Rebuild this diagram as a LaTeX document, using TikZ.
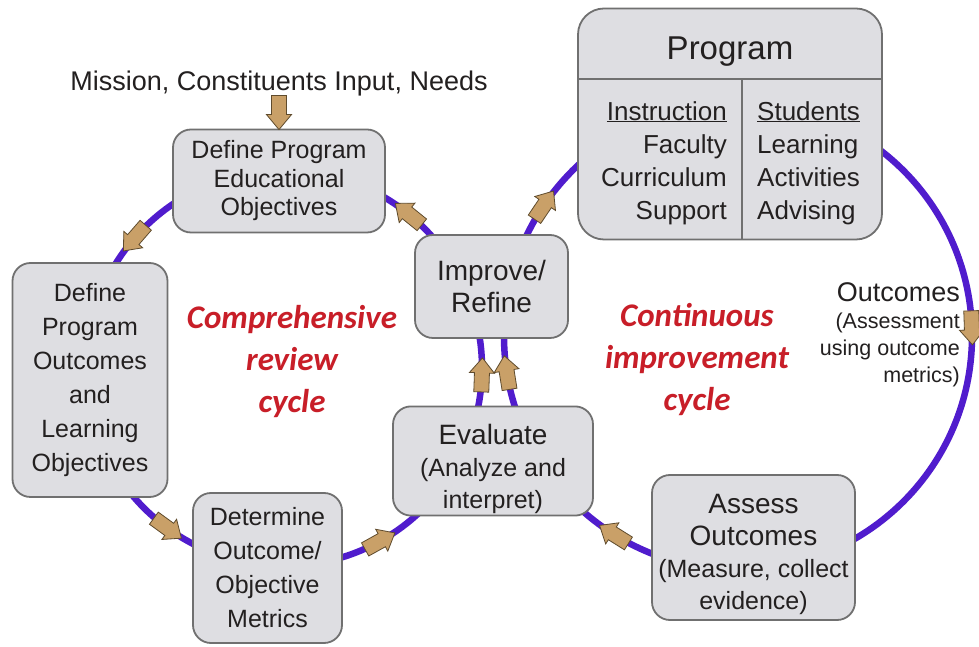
\documentclass[tikz,border=0pt]{standalone}
\usepackage{fontspec}
\setmainfont{Liberation Sans}
\newfontfamily\cyclefont{Carlito}
\usetikzlibrary{positioning}

\definecolor{loopviolet}{RGB}{80,28,205}
\definecolor{arrowtan}{RGB}{201,160,104}
\definecolor{arrowedge}{RGB}{95,75,45}
\definecolor{boxfill}{RGB}{222,222,226}
\definecolor{boxedge}{RGB}{112,112,112}
\definecolor{inkgray}{RGB}{35,32,32}
\definecolor{cyclered}{RGB}{200,30,40}

\newcommand\boxhead{\fontsize{28}{32}\selectfont}

\tikzset{
  stepbox/.style={draw=boxedge, line width=1.8pt, fill=boxfill, rounded corners=18pt,
    align=center, inner sep=2pt, text=inkgray, font=\fontsize{25}{32}\selectfont},
  cyclering/.style={draw=loopviolet, line width=6.5pt},
  cyclelabel/.style={text=cyclered, align=center,
    font=\cyclefont\bfseries\itshape\fontsize{33}{42}\selectfont},
  progtext/.style={text=inkgray, inner sep=0pt, font=\fontsize{26}{33}\selectfont},
  blockarrow/.pic={
    \filldraw[fill=arrowtan, draw=arrowedge, line width=0.8pt]
      (-17,-7.5) -- (2,-7.5) -- (2,-12.5) -- (17,0) -- (2,12.5) -- (2,7.5) -- (-17,7.5) -- cycle;}
}

\begin{document}
\begin{tikzpicture}[x=1pt,y=1pt]
\path[use as bounding box, fill=white] (0,0) rectangle (979,647);

% the two cycles
\coordinate (lc) at (284,279);
\coordinate (rc) at (738,311);
\draw[cyclering] (lc) circle[radius=198];
\draw[cyclering] (rc) circle[radius=234];

% boxes
\node[stepbox, minimum width=212pt, minimum height=103pt, font=\fontsize{25}{28.5}\selectfont] (peo) at (279,466)
  {Define Program\\Educational\\Objectives};
\node[stepbox, minimum width=155pt, minimum height=234pt, font=\fontsize{25}{34}\selectfont] (dpo) at (90,267)
  {Define\\Program\\Outcomes\\and\\Learning\\Objectives};
\node[stepbox, minimum width=149pt, minimum height=150pt, font=\fontsize{25}{34}\selectfont] (dom) at (267.5,79)
  {Determine\\Outcome/\\Objective\\Metrics};
\node[stepbox, minimum width=200pt, minimum height=108pt] (evl) at (493,186)
  {{\boxhead\rule{0pt}{36pt}Evaluate}\\(Analyze and\\interpret)};
\node[stepbox, minimum width=153pt, minimum height=103pt, font=\boxhead] (imp) at (491.5,360.5)
  {Improve/\\Refine};
\node[stepbox, minimum width=203pt, minimum height=145pt] (ass) at (753.5,99.5)
  {{\boxhead\rule{0pt}{34pt}Assess}\\{\boxhead Outcomes}\\(Measure, collect\\evidence)};

% program box
\node[stepbox, rounded corners=26pt, minimum width=304pt, minimum height=231pt] (prog) at (730,523) {};
\draw[draw=boxedge, line width=1.8pt] ([yshift=45pt]prog.west) -- ([yshift=45pt]prog.east);
\draw[draw=boxedge, line width=1.8pt] ([xshift=12pt,yshift=45pt]prog.center) -- ([xshift=12pt]prog.south);
\node[text=inkgray, font=\fontsize{33}{36}\selectfont] (progtitle) at (730,595) {Program};
\node[progtext, anchor=north east, align=right] (instr) at (727,546)
  {\underline{Instruction}\\Faculty\\Curriculum\\Support};
\node[progtext, anchor=north west, align=left] (stud) at (757,546)
  {\underline{Students}\\Learning\\Activities\\Advising};

% inputs and labels
\node[text=inkgray, inner sep=0pt, font=\fontsize{27}{30}\selectfont, above=32pt of peo.north] (mission)
  {Mission, Constituents Input, Needs};
\pic[rotate=-90] at ([yshift=16pt]peo.north) {blockarrow};

\node[text=inkgray, inner sep=0pt, anchor=east, align=right, font=\fontsize{21.5}{27}\selectfont] (outcomes) at (960,312)
  {{\fontsize{27}{29}\selectfont Outcomes}\\(Assessment\\using outcome\\metrics)};

\node[cyclelabel] (comp) at (292,285) {Comprehensive\\review\\cycle};
\node[cyclelabel] (cont) at (697,287) {Continuous\\improvement\\cycle};

% arrows on the cycles
\foreach \a in {139,234,299,-2,51}
  \path (lc) ++(\a:198) pic[rotate=\a+90] {blockarrow};
\foreach \a in {189,146,2,238}
  \path (rc) ++(\a:234) pic[rotate=\a-90] {blockarrow};
\end{tikzpicture}
\end{document}
